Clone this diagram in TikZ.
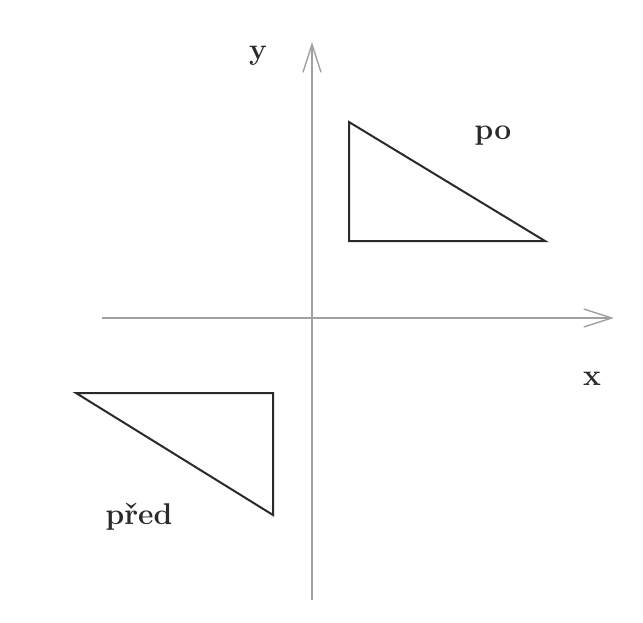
\documentclass[tikz,border=0pt]{standalone}
\usepackage{tikz}
\usetikzlibrary{arrows.meta,positioning}
\definecolor{axisgray}{HTML}{A0A0A0}
\definecolor{ink}{HTML}{2A2A2A}

\tikzset{
  axisline/.style={axisgray,line width=1.3pt,-{Straight Barb[length=28pt,width=18pt,line width=1.4pt]}},
  shapeline/.style={ink,line width=2pt,line join=miter},
  axlabel/.style={font=\fontsize{30}{34}\selectfont\bfseries,text=ink,inner sep=0pt}
}

\begin{document}
\begin{tikzpicture}[x=1pt,y=-1pt]
  \useasboundingbox (0,0) rectangle (643,622);

  % Axes.
  \coordinate (ybot) at (312,600);
  \coordinate (ytop) at (312,42);
  \coordinate (xleft) at (102,318);
  \coordinate (xright) at (614,318);
  \draw[axisline] (ybot) -- (ytop);
  \draw[axisline] (xleft) -- (xright);
  \node[axlabel] (ylab) at (258,56) {y};
  \node[axlabel] (xlab) at (592,379) {x};

  % Triangle after the move.
  \coordinate (pa) at (349,122);
  \coordinate (pb) at (349,241);
  \coordinate (pc) at (545,241);
  \draw[shapeline] (pa) -- (pb) -- (pc) -- cycle;
  \node[axlabel] (polab) at (493,136) {po};

  % Triangle before the move.
  \coordinate (qa) at (76,393);
  \coordinate (qb) at (273,393);
  \coordinate (qc) at (273,515);
  \draw[shapeline] (qa) -- (qb) -- (qc) -- cycle;
  \node[axlabel] (predlab) at (139,517) {před};
\end{tikzpicture}
\end{document}
